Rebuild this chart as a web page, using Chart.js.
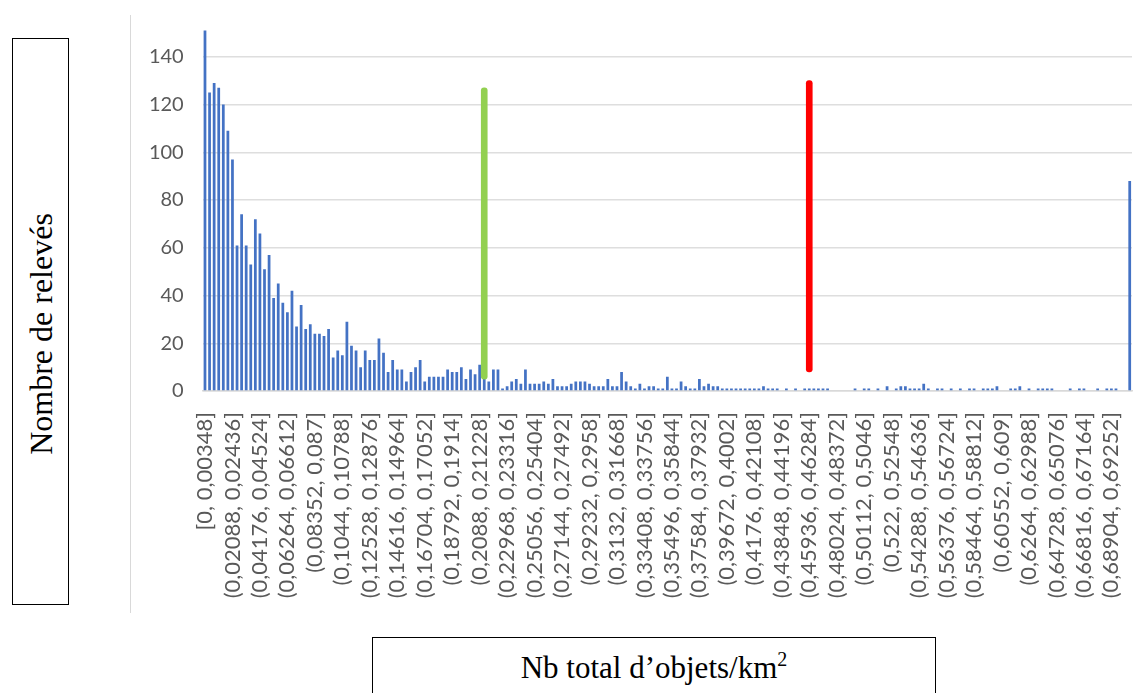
<html>
<head>
    <meta charset="utf-8">
    <title>Nombre de relevés</title>
    <style>
        body {
            margin: 0;
            background: #fff;
            width: 1135px;
            height: 693px;
            position: relative;
            overflow: hidden;
        }
        .frame {
            position: absolute;
            left: 130px;
            top: 15px;
            width: 1005px;
            height: 598px;
            border-left: 1px solid #d9d9d9;
        }
        .frame canvas {
            position: absolute;
            left: 1px;
            top: 0;
        }
        .box {
            position: absolute;
            border: 1.5px solid #000;
            font-family: "Liberation Serif", serif;
            font-size: 31px;
            color: #000;
            box-sizing: border-box;
        }
        #ytitle {
            left: 12px;
            top: 38px;
            width: 57px;
            height: 567px;
        }
        #ytitle span {
            position: absolute;
            left: 50%;
            top: 50%;
            font-size: 32px;
            white-space: nowrap;
            transform: translate(-50%, -50%) translateY(12px) rotate(-90deg);
        }
        #xtitle {
            left: 372px;
            top: 637px;
            width: 564px;
            height: 70px;
            text-align: center;
            line-height: 60px;
        }
        #xtitle sup {
            font-size: 20px;
            vertical-align: 12px;
            line-height: 0;
        }
    </style>
    <script src="https://cdn.jsdelivr.net/npm/chart.js"></script>
</head>
<body>
    <div class="frame"><canvas id="histo" width="1004" height="598"></canvas></div>
    <div class="box" id="ytitle"><span>Nombre de relevés</span></div>
    <div class="box" id="xtitle">Nb total d’objets/km<sup>2</sup></div>
    <script>
        // libellés affichés (une classe sur six)
        var tickLabels = [
            '[0, 0,00348]', '(0,02088, 0,02436]', '(0,04176, 0,04524]', '(0,06264, 0,06612]',
            '(0,08352, 0,087]', '(0,1044, 0,10788]', '(0,12528, 0,12876]', '(0,14616, 0,14964]',
            '(0,16704, 0,17052]', '(0,18792, 0,1914]', '(0,2088, 0,21228]', '(0,22968, 0,23316]',
            '(0,25056, 0,25404]', '(0,27144, 0,27492]', '(0,29232, 0,2958]', '(0,3132, 0,31668]',
            '(0,33408, 0,33756]', '(0,35496, 0,35844]', '(0,37584, 0,37932]', '(0,39672, 0,4002]',
            '(0,4176, 0,42108]', '(0,43848, 0,44196]', '(0,45936, 0,46284]', '(0,48024, 0,48372]',
            '(0,50112, 0,5046]', '(0,522, 0,52548]', '(0,54288, 0,54636]', '(0,56376, 0,56724]',
            '(0,58464, 0,58812]', '(0,60552, 0,609]', '(0,6264, 0,62988]', '(0,64728, 0,65076]',
            '(0,66816, 0,67164]', '(0,68904, 0,69252]'
        ];
        var labelStep = 6;

        // nombre de relevés par classe (203 classes)
        var counts = [
            151, 125, 129, 127, 120, 109, 97, 61, 74, 61,
            53, 72, 66, 51, 57, 39, 45, 37, 33, 42,
            27, 36, 26, 28, 24, 24, 23, 26, 14, 17,
            15, 29, 19, 17, 10, 17, 13, 13, 22, 16,
            8, 13, 9, 9, 4, 8, 10, 13, 4, 6,
            6, 6, 6, 9, 8, 8, 10, 5, 9, 7,
            11, 5, 4, 9, 9, 1, 2, 4, 5, 3,
            9, 3, 3, 3, 4, 3, 5, 2, 2, 2,
            3, 4, 4, 4, 3, 2, 2, 2, 5, 2,
            2, 8, 4, 2, 1, 3, 1, 2, 2, 1,
            1, 6, 1, 1, 4, 2, 1, 1, 5, 2,
            3, 2, 2, 1, 1, 1, 1, 1, 1, 1,
            1, 1, 2, 1, 1, 1, 0, 1, 0, 1,
            0, 1, 1, 1, 1, 1, 1, 0, 0, 0,
            0, 0, 1, 0, 1, 1, 0, 1, 0, 2,
            0, 1, 2, 2, 1, 1, 1, 3, 1, 0,
            1, 1, 0, 1, 0, 1, 0, 1, 1, 0,
            1, 1, 1, 2, 0, 0, 1, 1, 2, 0,
            1, 0, 1, 1, 1, 1, 0, 0, 0, 1,
            0, 1, 1, 0, 0, 1, 0, 1, 1, 1,
            0, 0, 88
        ];

        // traits verticaux (seuils) : classe, bas, haut
        var markerBins = [61, 132];
        var markerLow = [5, 8];
        var markerHigh = [127, 130];
        var markerColors = ['#92D050', '#FF0000'];

        var labels = counts.map(function (v, i) {
            return i % labelStep === 0 ? (tickLabels[i / labelStep] || '') : '';
        });
        var markerData = counts.map(function () { return null; });
        var markerBg = counts.map(function () { return 'rgba(0,0,0,0)'; });
        markerBins.forEach(function (b, j) {
            markerData[b] = [markerLow[j], markerHigh[j]];
            markerBg[b] = markerColors[j];
        });

        var ctx = document.getElementById('histo').getContext('2d');
        var chart = new Chart(ctx, {
            type: 'bar',
            data: {
                labels: labels,
                datasets: [
                    {
                        label: 'Seuils',
                        data: markerData,
                        backgroundColor: markerBg,
                        barThickness: 6,
                        borderRadius: 3,
                        borderSkipped: false,
                        grouped: false,
                        order: 0
                    },
                    {
                        label: 'Nombre de relevés',
                        data: counts,
                        backgroundColor: '#4472C4',
                        barPercentage: 0.6,
                        categoryPercentage: 1,
                        grouped: false,
                        order: 1
                    }
                ]
            },
            options: {
                responsive: false,
                animation: false,
                layout: { padding: { top: 6, right: 4, bottom: 0, left: 0 } },
                plugins: {
                    legend: { display: false },
                    tooltip: { enabled: false }
                },
                scales: {
                    x: {
                        grid: { display: false, drawTicks: false },
                        border: { display: true, color: '#d9d9d9', width: 1.5 },
                        ticks: {
                            autoSkip: false,
                            minRotation: 90,
                            maxRotation: 90,
                            padding: 21,
                            color: '#595959',
                            font: { family: 'Lato', size: 22 }
                        },
                        afterFit: function (scale) {
                            scale.height = 222;
                            scale.paddingLeft = 0;
                            scale.paddingRight = 0;
                        }
                    },
                    y: {
                        min: 0,
                        max: 155,
                        grid: { color: '#dedede', lineWidth: 1.5, drawTicks: false },
                        border: { display: false },
                        ticks: {
                            stepSize: 20,
                            padding: 19,
                            color: '#595959',
                            font: { family: 'Lato', size: 20 }
                        },
                        afterBuildTicks: function (scale) {
                            scale.ticks = scale.ticks.filter(function (t) { return t.value % 20 === 0; });
                        },
                        afterFit: function (scale) {
                            scale.width = 70.7;
                            scale.paddingTop = 0;
                            scale.paddingBottom = 0;
                        }
                    }
                }
            }
        });
    </script>
</body>
</html>
